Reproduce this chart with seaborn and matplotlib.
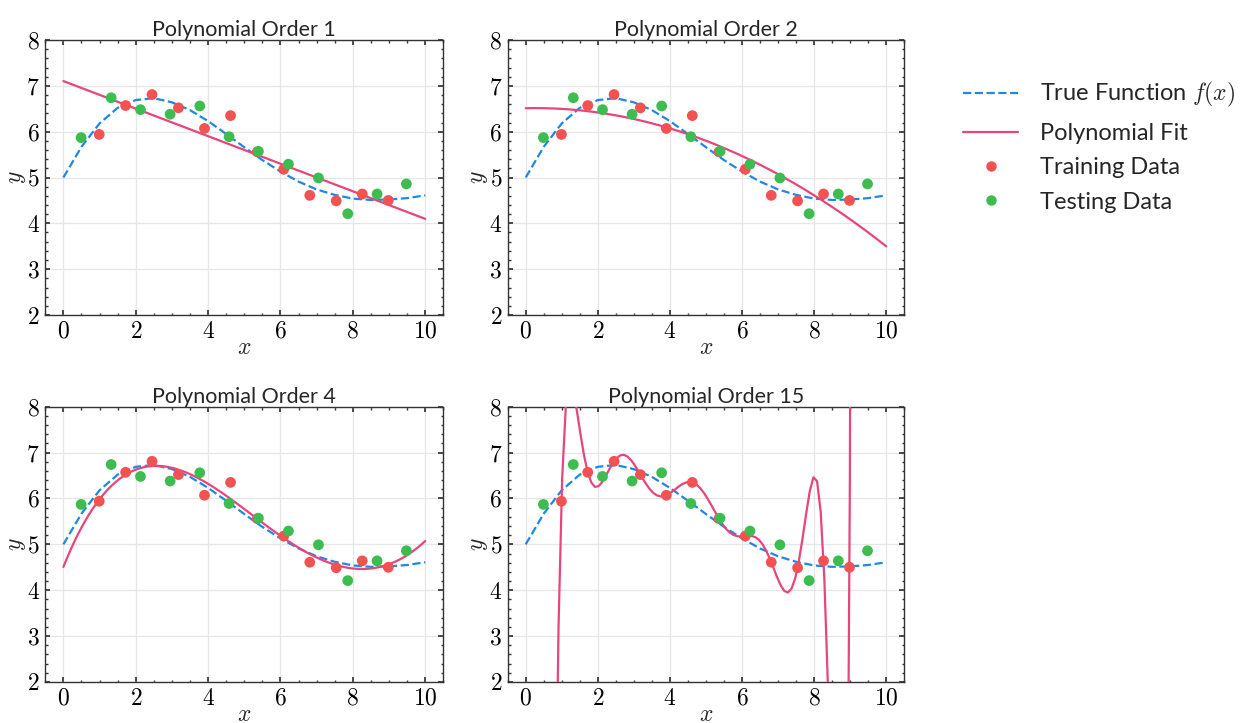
import warnings
import numpy as np
import matplotlib
matplotlib.use("Agg")
import matplotlib.pyplot as plt
from matplotlib.ticker import AutoMinorLocator, FuncFormatter, MultipleLocator
from matplotlib.lines import Line2D
import seaborn as sns

# Sample points
x_train = [0.99, 1.72, 2.45, 3.18, 3.90, 4.62, 5.36, 6.09, 6.81, 7.54, 8.26, 8.98]
y_train = [5.94, 6.57, 6.81, 6.52, 6.07, 6.35, 5.56, 5.18, 4.61, 4.49, 4.64, 4.50]
x_test = [0.49, 1.32, 2.13, 2.95, 3.77, 4.58, 5.39, 6.22, 7.05, 7.86, 8.67, 9.48]
y_test = [5.87, 6.74, 6.48, 6.38, 6.56, 5.89, 5.57, 5.29, 4.99, 4.21, 4.64, 4.86]

# True function f(x) sampled on a 0.5 grid
x_true = [0.0, 0.5, 1.0, 1.5, 2.0, 2.5, 3.0, 3.5, 4.0, 4.5, 5.0,
          5.5, 6.0, 6.5, 7.0, 7.5, 8.0, 8.5, 9.0, 9.5, 10.0]
y_true = [5.00, 5.67, 6.18, 6.52, 6.69, 6.73, 6.64, 6.47, 6.23, 5.95, 5.66,
          5.38, 5.13, 4.91, 4.74, 4.62, 4.54, 4.51, 4.52, 4.55, 4.61]

orders = [1, 2, 4, 15]
titles = ["Polynomial Order 1", "Polynomial Order 2", "Polynomial Order 4", "Polynomial Order 15"]

C_TRUE = "#1e88e5"
C_FIT = "#e8457c"
C_TRAIN = "#f25252"
C_TEST = "#3dbd50"

sns.set_theme(style="ticks")
plt.rcParams.update({
    "font.family": ["Lato", "DejaVu Sans"],
    "mathtext.fontset": "cm",
    "axes.edgecolor": "#333333",
    "axes.linewidth": 1.0,
    "xtick.direction": "in",
    "ytick.direction": "in",
    "xtick.top": True,
    "ytick.right": True,
    "xtick.major.size": 3.5,
    "ytick.major.size": 3.5,
    "xtick.minor.size": 1.8,
    "ytick.minor.size": 1.8,
    "xtick.minor.visible": True,
    "ytick.minor.visible": True,
    "xtick.color": "#333333",
    "ytick.color": "#333333",
    "xtick.labelcolor": "black",
    "ytick.labelcolor": "black",
})

fig = plt.figure(figsize=(12.41, 7.23), dpi=100)
W, H = 1241, 723
boxes = [(45.3, 40, 443.3, 315), (507.7, 40, 904.3, 315),
         (45.3, 406.7, 443.3, 682), (507.7, 406.7, 904.3, 682)]

x_grid = np.linspace(0, 10, 100)
tick_fmt = FuncFormatter(lambda v, p: f"${v:g}$")

for order, title, (l, t, r, b) in zip(orders, titles, boxes):
    ax = fig.add_axes([l / W, 1 - b / H, (r - l) / W, (b - t) / H])
    # least-squares polynomial fit to the training points
    with warnings.catch_warnings():
        warnings.simplefilter("ignore")
        coeffs = np.polyfit(x_train, y_train, order)
    y_fit = np.polyval(coeffs, x_grid)

    sns.lineplot(x=x_true, y=y_true, ax=ax, color=C_TRUE, lw=1.6,
                 linestyle="--", sort=False, zorder=2)
    sns.lineplot(x=x_grid, y=y_fit, ax=ax, color=C_FIT, lw=1.6, sort=False, zorder=3)
    sns.scatterplot(x=x_train, y=y_train, ax=ax, color=C_TRAIN, s=60,
                    edgecolor="none", zorder=4)
    sns.scatterplot(x=x_test, y=y_test, ax=ax, color=C_TEST, s=60,
                    edgecolor="none", zorder=4)

    ax.set_xlim(-0.5, 10.5)
    ax.set_ylim(2, 8)
    ax.xaxis.set_major_locator(MultipleLocator(2))
    ax.yaxis.set_major_locator(MultipleLocator(1))
    ax.xaxis.set_minor_locator(AutoMinorLocator(4))
    ax.yaxis.set_minor_locator(AutoMinorLocator(5))
    ax.xaxis.set_major_formatter(tick_fmt)
    ax.yaxis.set_major_formatter(tick_fmt)
    ax.tick_params(which="both", labelsize=17, pad=4)
    ax.grid(True, which="major", color="#e6e6e6", lw=0.9)
    ax.set_axisbelow(True)
    ax.set_xlabel("$x$", fontsize=17, labelpad=-3)
    ax.set_ylabel("$y$", fontsize=17, labelpad=-1)
    ax.set_title(title, fontsize=15.5, pad=3)

handles = [
    Line2D([], [], color=C_TRUE, lw=1.6, linestyle="--"),
    Line2D([], [], color=C_FIT, lw=1.6),
    Line2D([], [], color=C_TRAIN, marker="o", linestyle="none", markersize=7.5, markeredgewidth=0),
    Line2D([], [], color=C_TEST, marker="o", linestyle="none", markersize=7.5, markeredgewidth=0),
]
labels = ["True Function $f(x)$", "Polynomial Fit", "Training Data", "Testing Data"]
fig.legend(handles, labels, loc="upper left", bbox_to_anchor=(942 / W, 1 - 59 / H),
           frameon=False, fontsize=17, handlelength=2.33, handletextpad=0.9,
           labelspacing=0.57)

fig.savefig("out.png", dpi=100)
